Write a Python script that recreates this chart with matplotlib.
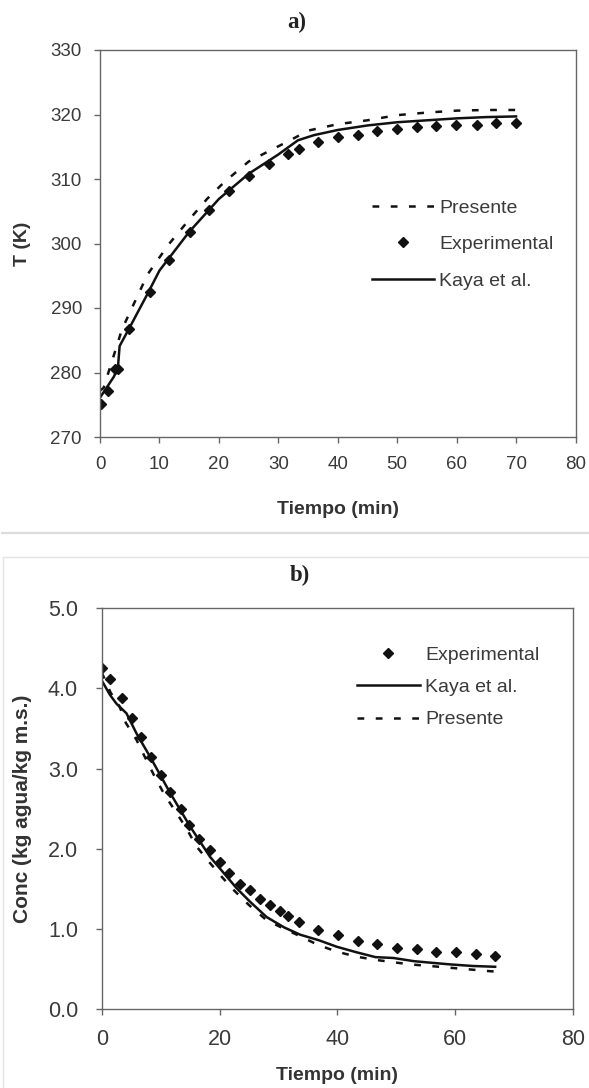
import matplotlib
matplotlib.use("Agg")
import matplotlib.pyplot as plt
from matplotlib.lines import Line2D
from matplotlib.patches import Rectangle

# ---------------- data: panel a) temperature ----------------
exp_t = [0.2, 1.4, 2.5, 3.1, 4.9, 8.4, 11.6, 15.1, 18.4, 21.7, 25.0, 28.4, 31.7, 33.4,
         36.6, 40.0, 43.4, 46.6, 50.0, 53.3, 56.6, 59.9, 63.4, 66.6, 70.0]
exp_T = [275.1, 277.1, 280.6, 280.5, 286.7, 292.5, 297.4, 301.8, 305.2, 308.1, 310.4,
         312.3, 313.8, 314.7, 315.7, 316.5, 316.8, 317.5, 317.7, 318.0, 318.2, 318.4,
         318.4, 318.7, 318.7]
kaya_t = [0, 2.3, 3.0, 3.3, 5, 8, 10, 15, 20, 25, 30, 33.3, 36, 40, 45, 50, 55, 60, 65, 70]
kaya_T = [276.1, 279.3, 280.6, 284.1, 287.0, 292.2, 295.8, 301.8, 306.9, 310.8, 313.8,
          316.0, 316.8, 317.6, 318.3, 318.8, 319.1, 319.4, 319.6, 319.7]
pres_t = [0, 0.6, 3.7, 8, 11.5, 15, 18, 21, 25, 29, 32, 35, 40, 45, 50, 55, 60, 65, 70]
pres_T = [277.2, 277.6, 286.7, 295.2, 299.8, 303.7, 306.9, 309.6, 312.7, 314.6, 316.0,
          317.5, 318.5, 319.1, 319.9, 320.3, 320.6, 320.7, 320.7]

# ---------------- data: panel b) concentration ----------------
exp_tc = [0.1, 1.4, 3.4, 5.2, 6.6, 8.4, 10.0, 11.6, 13.5, 14.9, 16.6, 18.4, 20.0, 21.6,
          23.4, 25.2, 26.8, 28.6, 30.2, 31.7, 33.5, 36.7, 40.1, 43.5, 46.7, 50.1, 53.5,
          56.7, 60.1, 63.5, 66.7]
exp_C = [4.26, 4.12, 3.88, 3.63, 3.39, 3.15, 2.92, 2.71, 2.50, 2.30, 2.12, 1.98, 1.84,
         1.70, 1.56, 1.49, 1.38, 1.30, 1.22, 1.16, 1.09, 0.99, 0.92, 0.85, 0.81, 0.77,
         0.75, 0.71, 0.71, 0.69, 0.67]
kaya_tc = [0, 1.4, 2.5, 4.2, 5.9, 8.2, 11.6, 15, 18.4, 22.9, 25.2, 28, 31, 33.7, 36.9,
           39.9, 43.3, 46.5, 49.5, 53, 56, 59.1, 63, 66.8]
kaya_C = [4.10, 3.92, 3.81, 3.69, 3.44, 3.15, 2.70, 2.28, 1.90, 1.51, 1.34, 1.15, 1.02,
          0.93, 0.86, 0.78, 0.71, 0.65, 0.64, 0.60, 0.58, 0.56, 0.54, 0.53]
pres_tc = [0, 1.5, 3, 4.1, 5.9, 7.5, 9.0, 10.7, 12.6, 14.5, 16.1, 18.2, 20.4, 22.5, 25,
           28, 30.8, 34, 36.8, 39.9, 43, 46.1, 49.2, 52.3, 55.7, 58.8, 62, 65.1, 66.8]
pres_C = [4.20, 3.95, 3.78, 3.57, 3.36, 3.12, 2.90, 2.67, 2.46, 2.24, 2.03, 1.84, 1.65,
          1.48, 1.30, 1.11, 1.01, 0.90, 0.80, 0.72, 0.66, 0.62, 0.59, 0.56, 0.54, 0.52,
          0.50, 0.48, 0.47]

xticks_a = [0, 10, 20, 30, 40, 50, 60, 70, 80]
yticks_a = [270, 280, 290, 300, 310, 320, 330]
xticks_b = [0, 20, 40, 60, 80]
yticks_b = [0.0, 1.0, 2.0, 3.0, 4.0, 5.0]

plt.rcParams['font.family'] = ['Liberation Sans', 'DejaVu Sans']
TXT = '#3a3a3a'
SPINE = '#666666'
LINE = '#111111'

W, H = 589, 1088
fig = plt.figure(figsize=(W / 100, H / 100), dpi=100)
fig.patch.set_facecolor('white')


def ax_rect(l, r, t, b):
    return [l / W, 1 - b / H, (r - l) / W, (b - t) / H]


def style(ax, tickfs, ypad):
    for s in ax.spines.values():
        s.set_color(SPINE)
        s.set_linewidth(1.0)
    ax.tick_params(axis='both', direction='out', color=SPINE, width=1.0,
                   labelcolor=TXT, labelsize=tickfs)
    ax.tick_params(axis='y', length=4, pad=ypad)
    ax.tick_params(axis='x', length=4.5, pad=9)


dash = (2.7, 4.6)

# ---------------- panel a ----------------
axa = fig.add_axes(ax_rect(100, 575.5, 50, 437))
pa, = axa.plot(pres_t, pres_T, color=LINE, lw=1.8, dashes=dash)
ea, = axa.plot(exp_t, exp_T, linestyle='none', marker='D', ms=5.5, color=LINE)
ka, = axa.plot(kaya_t, kaya_T, color=LINE, lw=1.8)
axa.set_xlim(0, 80)
axa.set_ylim(270, 330)
axa.set_xticks(xticks_a)
axa.set_yticks(yticks_a)
style(axa, 13.5, 9)
axa.set_xlabel('Tiempo (min)', fontsize=14, fontweight='bold', color='#333333', va='center')
axa.xaxis.set_label_coords(0.5, (437 - 509.6) / 387)
axa.set_ylabel('T (K)', fontsize=14, fontweight='bold', color='#333333', va='center')
axa.yaxis.set_label_coords((22.5 - 100) / 475.5, 0.5)
la = axa.legend([pa, ea, ka], ['Presente', 'Experimental', 'Kaya et al.'],
                loc='upper left', bbox_to_anchor=(372 / W, 1 - 199 / H),
                bbox_transform=fig.transFigure, frameon=False, fontsize=14,
                handlelength=3.19, handletextpad=0.26, labelspacing=0.98,
                borderpad=0, borderaxespad=0, labelcolor=TXT)
fig.text(297 / W, 1 - 22.4 / H, 'a)', family='Liberation Serif', fontweight='bold',
         fontsize=16.5, color='#222222', ha='center', va='center')

# separator and border of panel b
fig.add_artist(Line2D([2 / W, 1], [1 - 532.7 / H] * 2, transform=fig.transFigure,
                      color='#dcdcdc', lw=1.6))
fig.add_artist(Rectangle((3.3 / W, -0.01), 1.0, 1 - 557.3 / H + 0.01,
                         transform=fig.transFigure, fill=False,
                         edgecolor='#e4e4e4', lw=1.0))

# ---------------- panel b ----------------
axb = fig.add_axes(ax_rect(101.7, 572.9, 608.2, 1009.3))
eb, = axb.plot(exp_tc, exp_C, linestyle='none', marker='D', ms=5.5, color=LINE)
kb, = axb.plot(kaya_tc, kaya_C, color=LINE, lw=1.8)
pb, = axb.plot(pres_tc, pres_C, color=LINE, lw=1.8, dashes=dash)
axb.set_xlim(0, 80)
axb.set_ylim(0, 5)
axb.set_xticks(xticks_b)
axb.set_yticks(yticks_b)
axb.set_yticklabels([f'{v:.1f}' for v in yticks_b])
style(axb, 15.5, 13)
axb.tick_params(axis='x', pad=9.5)
axb.set_xlabel('Tiempo (min)', fontsize=14, fontweight='bold', color='#333333', va='center')
axb.xaxis.set_label_coords(0.5, (1009.3 - 1075) / 401.1)
axb.set_ylabel('Conc (kg agua/kg m.s.)', fontsize=15, fontweight='bold',
               color='#333333', va='center')
axb.yaxis.set_label_coords((22.5 - 101.7) / 471.2, 0.5)
lb = axb.legend([eb, kb, pb], ['Experimental', 'Kaya et al.', 'Presente'],
                loc='upper left', bbox_to_anchor=(357 / W, 1 - 646 / H),
                bbox_transform=fig.transFigure, frameon=False, fontsize=14,
                handlelength=3.24, handletextpad=0.26, labelspacing=0.76,
                borderpad=0, borderaxespad=0, labelcolor=TXT)
fig.text(300 / W, 1 - 575 / H, 'b)', family='Liberation Serif', fontweight='bold',
         fontsize=16.5, color='#222222', ha='center', va='center')

fig.savefig('out.png', dpi=100, facecolor='white')
